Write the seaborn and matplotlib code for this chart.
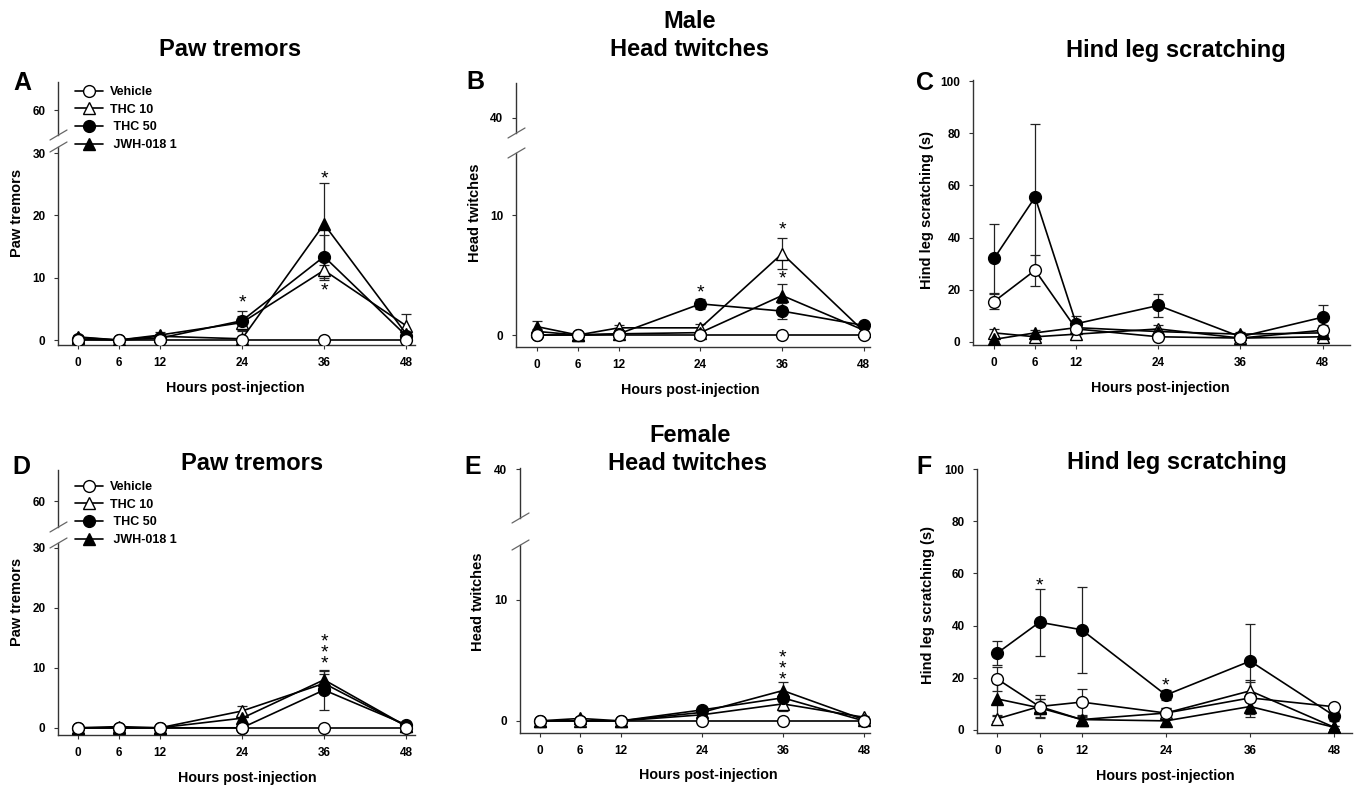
import numpy as np
import pandas as pd
import matplotlib
matplotlib.use("Agg")
import matplotlib.pyplot as plt
from matplotlib.lines import Line2D
import seaborn as sns

sns.set_theme(style="ticks")
plt.rcParams['font.family'] = ['Liberation Sans', 'DejaVu Sans']
plt.rcParams['font.weight'] = 'bold'
plt.rcParams['text.color'] = 'black'
plt.rcParams['axes.labelcolor'] = 'black'
plt.rcParams['xtick.color'] = 'black'
plt.rcParams['ytick.color'] = 'black'

W, H = 1358, 787

hours = [0, 6, 12, 24, 36, 48]
groups = ["Vehicle", "THC 10", "THC 50", "JWH-018 1"]
legend_labels = ["Vehicle", "THC 10", " THC 50", " JWH-018 1"]

# Male paw tremors (A)
veh_A = [0, 0, 0, 0, 0, 0]
thc10_A = [0.4, 0, 0.8, 2.8, 11.2, 2.3]
thc50_A = [0.1, 0, 0.3, 3.1, 13.4, 0.7]
jwh_A = [0.5, 0, 0.6, 0.2, 18.6, 1.0]
veh_A_sem = [0, 0, 0, 0, 0, 0]
thc10_A_sem = [0.3, 0, 0.5, 1.0, 1.5, 1.9]
thc50_A_sem = [0.2, 0, 0.3, 1.5, 3.4, 0.8]
jwh_A_sem = [0.3, 0, 0.4, 1.3, 6.6, 0.6]

# Male head twitches (B)
veh_B = [0, 0, 0, 0, 0, 0]
thc10_B = [0.3, 0, 0.6, 0.6, 6.8, 0.3]
thc50_B = [0, 0, 0.1, 2.6, 2.0, 0.8]
jwh_B = [0.7, 0, 0.1, 0.2, 3.3, 0.4]
veh_B_sem = [0, 0, 0, 0, 0, 0]
thc10_B_sem = [0.2, 0, 0.2, 0.3, 1.3, 0.2]
thc50_B_sem = [0, 0, 0.1, 0.4, 0.7, 0.2]
jwh_B_sem = [0.5, 0, 0.1, 0.1, 1.0, 0.2]

# Male hind leg scratching (C)
veh_C = [15.5, 27.5, 5, 2, 1.5, 4.5]
thc10_C = [3.5, 2, 3, 5, 1.5, 2]
thc50_C = [32, 55.5, 7, 14, 2, 9.5]
jwh_C = [1, 3.5, 5.5, 4, 3, 3.5]
veh_C_sem = [2.8, 6, 2, 1, 1, 2]
thc10_C_sem = [1.5, 0.5, 1, 1.5, 1, 0.8]
thc50_C_sem = [13.2, 28, 3, 4.5, 1.5, 4.8]
jwh_C_sem = [0.5, 1, 1.5, 1, 1, 1]

# Female paw tremors (D)
veh_D = [0, 0, 0, 0, 0, 0]
thc10_D = [0, 0, 0, 2.8, 7.4, 0.3]
thc50_D = [0, 0, 0, 0, 6.3, 0.5]
jwh_D = [0, 0.2, 0, 1.6, 8.0, 0.3]
veh_D_sem = [0, 0, 0, 0, 0, 0]
thc10_D_sem = [0, 0, 0, 0.8, 1.5, 0.2]
thc50_D_sem = [0, 0, 0, 0, 3.3, 0.3]
jwh_D_sem = [0, 0.1, 0, 0.6, 1.5, 0.2]

# Female head twitches (E)
veh_E = [0, 0, 0, 0, 0, 0]
thc10_E = [0, 0, 0, 0.5, 1.4, 0.3]
thc50_E = [0, 0, 0, 0.9, 1.9, 0]
jwh_E = [0, 0.2, 0, 0.7, 2.5, 0.1]
veh_E_sem = [0, 0, 0, 0, 0, 0]
thc10_E_sem = [0, 0, 0, 0.2, 0.6, 0.1]
thc50_E_sem = [0, 0, 0, 0.2, 0.5, 0]
jwh_E_sem = [0, 0.1, 0, 0.2, 0.7, 0.1]

# Female hind leg scratching (F)
veh_F = [19.5, 9, 10.7, 6.5, 12.3, 8.9]
thc10_F = [4.3, 9, 4, 6.5, 15, 1]
thc50_F = [29.5, 41.3, 38.4, 13.4, 26.4, 5.4]
jwh_F = [11.9, 8.5, 4, 3.5, 9, 1]
veh_F_sem = [4.5, 4.5, 5, 2, 6, 1]
thc10_F_sem = [1, 3, 1, 2, 4, 0.5]
thc50_F_sem = [4.5, 12.8, 16.5, 2, 14.2, 2]
jwh_F_sem = [6, 3.5, 1.5, 1.5, 4, 0.5]

# significance stars: (panel, hour, y-value, number of stacked stars)
stars = [("A", 24, 5.9, 1), ("A", 36, 25.8, 1), ("A", 36, 7.8, 1),
         ("B", 24, 3.55, 1), ("B", 36, 8.75, 1), ("B", 36, 4.65, 1),
         ("D", 36, 12.5, 3), ("E", 36, 4.3, 3),
         ("F", 6, 55.2, 1), ("F", 24, 16.9, 1)]

panel_data = {
    "A": [(veh_A, veh_A_sem), (thc10_A, thc10_A_sem), (thc50_A, thc50_A_sem), (jwh_A, jwh_A_sem)],
    "B": [(veh_B, veh_B_sem), (thc10_B, thc10_B_sem), (thc50_B, thc50_B_sem), (jwh_B, jwh_B_sem)],
    "C": [(veh_C, veh_C_sem), (thc10_C, thc10_C_sem), (thc50_C, thc50_C_sem), (jwh_C, jwh_C_sem)],
    "D": [(veh_D, veh_D_sem), (thc10_D, thc10_D_sem), (thc50_D, thc50_D_sem), (jwh_D, jwh_D_sem)],
    "E": [(veh_E, veh_E_sem), (thc10_E, thc10_E_sem), (thc50_E, thc50_E_sem), (jwh_E, jwh_E_sem)],
    "F": [(veh_F, veh_F_sem), (thc10_F, thc10_F_sem), (thc50_F, thc50_F_sem), (jwh_F, jwh_F_sem)],
}

rows = []
for p, series in panel_data.items():
    for g, (vals, sems) in zip(groups, series):
        for h, v, s in zip(hours, vals, sems):
            rows.append(dict(panel=p, group=g, hour=h, value=v, err=s))
df = pd.DataFrame(rows)

styles = {"Vehicle": ("o", "white"), "THC 10": ("^", "white"),
          "THC 50": ("o", "black"), "JWH-018 1": ("^", "black")}
draw_order = ["THC 10", "JWH-018 1", "THC 50", "Vehicle"]

fig = plt.figure(figsize=(W / 100, H / 100), dpi=100)


def px_axes(x0, x1, ytop, ybot):
    return fig.add_axes([x0 / W, 1 - ybot / H, (x1 - x0) / W, (ybot - ytop) / H])


def style_ax(ax):
    for s in ["top", "right"]:
        ax.spines[s].set_visible(False)
    for s in ["left", "bottom"]:
        ax.spines[s].set_color("#333333")
        ax.spines[s].set_linewidth(1.0)
    ax.tick_params(direction="out", length=3, width=0.8, colors="#333333",
                   labelsize=8.5, labelcolor="black", pad=6)
    for lab in ax.get_xticklabels() + ax.get_yticklabels():
        lab.set_fontweight("bold")
    ax.set_facecolor("white")


panels = {
    "A": (58, 415, (147, 345), (82, 135), (-2.9, 49.3), (-0.8, 31), (56, 64.5), [0, 10, 20, 30], [60]),
    "B": (516, 870, (153, 347), (83, 133), (-3.1, 48.9), (-1, 15.2), (38.75, 42.9), [0, 10], [40]),
    "C": (973, 1350, (80, 345), None, (-3.07, 52), (-1.15, 100.4), None, [0, 20, 40, 60, 80, 100], None),
    "D": (58, 415, (543, 735), (470, 527), (-2.9, 49.3), (-1.2, 30.8), (55.7, 65.2), [0, 10, 20, 30], [60]),
    "E": (520, 870, (545, 733), (468, 518), (-2.9, 48.9), (-1, 14.5), (35.95, 40.1), [0, 10], [40]),
    "F": (977, 1352, (469, 733), None, (-2.9, 50.5), (-1.15, 100), None, [0, 20, 40, 60, 80, 100], None),
}

axes = {}
for p, (x0, x1, low, up, xlim, ylim, ylim_up, yt, yt_up) in panels.items():
    ax = px_axes(x0, x1, low[0], low[1])
    sub = df[df.panel == p]
    for g in draw_order:
        d = sub[sub.group == g]
        m, fc = styles[g]
        ax.errorbar(d["hour"], d["value"], yerr=d["err"], fmt="none", ecolor="#222222",
                    elinewidth=0.9, capsize=3.5, capthick=0.9, zorder=2)
        sns.lineplot(data=d, x="hour", y="value", ax=ax, color="black", linewidth=1.2,
                     marker=m, markersize=8.5, markerfacecolor=fc, markeredgecolor="black",
                     markeredgewidth=1.0, errorbar=None, legend=False, zorder=3)
    ax.set_xlim(*xlim)
    ax.set_ylim(*ylim)
    ax.set_xticks(hours)
    ax.set_yticks(yt)
    ax.set_xlabel("")
    ax.set_ylabel("")
    style_ax(ax)
    axes[p] = ax
    if up is not None:
        axu = px_axes(x0, x1, up[0], up[1])
        axu.set_xlim(*xlim)
        axu.set_ylim(*ylim_up)
        axu.set_yticks(yt_up)
        axu.set_xticks([])
        style_ax(axu)
        axu.spines["bottom"].set_visible(False)
        axu.patch.set_alpha(0)
        for yy in (up[1], low[0]):
            xs = np.array([x0 - 8, x0 + 9]) / W
            ys = 1 - np.array([yy + 5, yy - 5]) / H
            fig.add_artist(Line2D(xs, ys, color="#666666", lw=0.9, transform=fig.transFigure))

for p, h, y, n in stars:
    axes[p].text(h, y, "\n".join(["*"] * n), ha="center", va="center", fontsize=14,
                 fontweight="normal", color="black", linespacing=0.55)


def ftext(x, y, s, **kw):
    fig.text(x / W, 1 - y / H, s, ha=kw.pop("ha", "center"), va=kw.pop("va", "center"), **kw)


TS = 17
ftext(230, 50, "Paw tremors", fontsize=TS, fontweight="bold")
ftext(690, 22, "Male", fontsize=TS, fontweight="bold")
ftext(690, 50, "Head twitches", fontsize=TS, fontweight="bold")
ftext(1176, 50, "Hind leg scratching", fontsize=TS, fontweight="bold")
ftext(252, 463, "Paw tremors", fontsize=TS, fontweight="bold")
ftext(690, 435, "Female", fontsize=TS, fontweight="bold")
ftext(688, 463, "Head twitches", fontsize=TS, fontweight="bold")
ftext(1177, 463, "Hind leg scratching", fontsize=TS, fontweight="bold")

for L, x, y in [("A", 22, 83), ("B", 475, 82), ("C", 925, 83), ("D", 21, 467), ("E", 473, 467), ("F", 924, 467)]:
    ftext(x, y, L, fontsize=18, fontweight="bold")

for x, y, s in [(17, 213, "Paw tremors"), (475, 213, "Head twitches"), (927, 210, "Hind leg scratching (s)"),
                (17, 602, "Paw tremors"), (478, 602, "Head twitches"), (928, 605, "Hind leg scratching (s)")]:
    ftext(x, y, s, fontsize=10.5, fontweight="bold", rotation=90)
for x, y in [(235, 388), (690, 390), (1160, 388), (247, 778), (708, 775), (1165, 776)]:
    ftext(x, y, "Hours post-injection", fontsize=10.3, fontweight="bold")

handles = [Line2D([0], [0], color="black", lw=1.2, marker=styles[g][0], markersize=8.5,
                  markerfacecolor=styles[g][1], markeredgecolor="black") for g in groups]
for (lx, ly) in [(75, 86), (75, 481)]:
    leg = fig.legend(handles, legend_labels, loc="upper left", bbox_to_anchor=(lx / W, 1 - ly / H),
                     frameon=False, fontsize=9, handlelength=2.2, handletextpad=0.6,
                     labelspacing=0.45, borderaxespad=0, borderpad=0)
    for t in leg.get_texts():
        t.set_fontweight("bold")

fig.savefig("out.png", dpi=100, facecolor="white")
